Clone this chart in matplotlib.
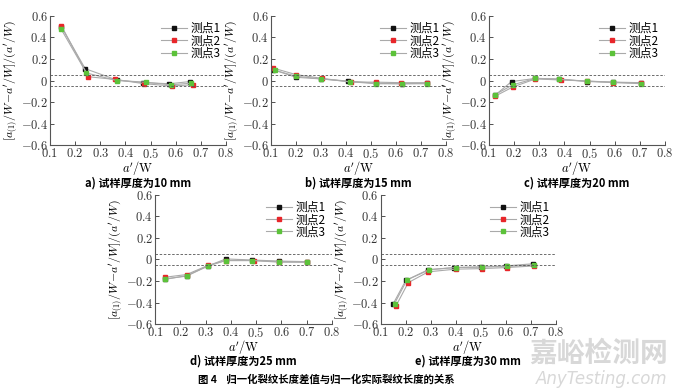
import numpy as np
import matplotlib
matplotlib.use("Agg")
import matplotlib.pyplot as plt

plt.rcParams["mathtext.fontset"] = "cm"
plt.rcParams["font.family"] = ["Noto Sans CJK SC", "DejaVu Sans"]

# a) 10 mm
a_x1 = [0.145, 0.240, 0.365, 0.470, 0.575, 0.655]
a_y1 = [0.500, 0.110, 0.005, -0.020, -0.030, -0.010]
a_x2 = [0.145, 0.253, 0.360, 0.475, 0.585, 0.670]
a_y2 = [0.510, 0.035, 0.010, -0.030, -0.050, -0.040]
a_x3 = [0.145, 0.245, 0.365, 0.480, 0.580, 0.660]
a_y3 = [0.475, 0.070, 0.000, -0.015, -0.040, -0.025]

# b) 15 mm
b_x1 = [0.110, 0.200, 0.300, 0.410, 0.520, 0.625, 0.725]
b_y1 = [0.100, 0.030, 0.015, -0.005, -0.025, -0.030, -0.025]
b_x2 = [0.110, 0.200, 0.305, 0.420, 0.520, 0.620, 0.725]
b_y2 = [0.115, 0.055, 0.020, -0.015, -0.015, -0.020, -0.020]
b_x3 = [0.115, 0.200, 0.300, 0.415, 0.520, 0.625, 0.725]
b_y3 = [0.095, 0.040, 0.015, -0.010, -0.030, -0.030, -0.030]

# c) 20 mm
c_x1 = [0.125, 0.190, 0.285, 0.380, 0.490, 0.595, 0.705]
c_y1 = [-0.135, -0.010, 0.020, 0.015, -0.010, -0.015, -0.020]
c_x2 = [0.125, 0.195, 0.285, 0.385, 0.490, 0.595, 0.705]
c_y2 = [-0.145, -0.060, 0.015, 0.005, -0.005, -0.020, -0.025]
c_x3 = [0.125, 0.195, 0.285, 0.380, 0.490, 0.595, 0.705]
c_y3 = [-0.130, -0.040, 0.020, 0.010, -0.005, -0.015, -0.030]

# d) 25 mm
d_x1 = [0.140, 0.225, 0.310, 0.380, 0.485, 0.590, 0.700]
d_y1 = [-0.180, -0.155, -0.060, 0.005, -0.005, -0.015, -0.020]
d_x2 = [0.140, 0.225, 0.310, 0.380, 0.490, 0.590, 0.700]
d_y2 = [-0.165, -0.140, -0.055, -0.010, -0.010, -0.025, -0.025]
d_x3 = [0.140, 0.225, 0.310, 0.380, 0.485, 0.590, 0.700]
d_y3 = [-0.185, -0.150, -0.060, -0.010, -0.010, -0.020, -0.025]

# e) 30 mm
e_x1 = [0.150, 0.200, 0.290, 0.395, 0.500, 0.600, 0.710]
e_y1 = [-0.410, -0.195, -0.095, -0.075, -0.070, -0.060, -0.040]
e_x2 = [0.160, 0.210, 0.290, 0.400, 0.505, 0.605, 0.715]
e_y2 = [-0.435, -0.215, -0.115, -0.090, -0.085, -0.075, -0.060]
e_x3 = [0.155, 0.205, 0.295, 0.400, 0.505, 0.605, 0.715]
e_y3 = [-0.410, -0.190, -0.095, -0.075, -0.070, -0.065, -0.050]

series_labels = ["测点1", "测点2", "测点3"]
marker_colors = ["#111111", "#e8262a", "#5cc23a"]
panel_titles = ["a) 试样厚度为10 mm", "b) 试样厚度为15 mm", "c) 试样厚度为20 mm",
                "d) 试样厚度为25 mm", "e) 试样厚度为30 mm"]
xticks = [0.1, 0.2, 0.3, 0.4, 0.5, 0.6, 0.7, 0.8]
yticks = [-0.6, -0.4, -0.2, 0, 0.2, 0.4, 0.6]
ytick_labels = [r"$-0.6$", r"$-0.4$", r"$-0.2$", r"$0$", r"$0.2$", r"$0.4$", r"$0.6$"]
caption = "图 4    归一化裂纹长度差值与归一化实际裂纹长度的关系"

panels = [
    [(a_x1, a_y1), (a_x2, a_y2), (a_x3, a_y3)],
    [(b_x1, b_y1), (b_x2, b_y2), (b_x3, b_y3)],
    [(c_x1, c_y1), (c_x2, c_y2), (c_x3, c_y3)],
    [(d_x1, d_y1), (d_x2, d_y2), (d_x3, d_y3)],
    [(e_x1, e_y1), (e_x2, e_y2), (e_x3, e_y3)],
]

# axes rectangles in figure fraction (left, bottom, width, height)
rects = [
    (0.0735, 0.627, 0.259, 0.332),
    (0.3985, 0.627, 0.257, 0.332),
    (0.719, 0.627, 0.259, 0.332),
    (0.228, 0.167, 0.260, 0.332),
    (0.560, 0.167, 0.257, 0.332),
]

fig = plt.figure(figsize=(6.8, 3.89), dpi=100)

for rect, data, title in zip(rects, panels, panel_titles):
    ax = fig.add_axes(rect)
    for (x, y), lab, col in zip(data, series_labels, marker_colors):
        ax.plot(x, y, color="#aaaaaa", lw=0.8, marker="s", ms=3,
                mfc=col, mec=col, label=lab)
    ax.axhline(0.05, color="#555555", lw=0.6, ls=(0, (3, 2)))
    ax.axhline(-0.05, color="#555555", lw=0.6, ls=(0, (3, 2)))
    ax.set_xlim(0.1, 0.8)
    ax.set_ylim(-0.6, 0.6)
    ax.set_xticks(xticks)
    ax.set_xticklabels([r"$%.1f$" % v for v in xticks], fontsize=9)
    ax.set_yticks(yticks)
    ax.set_yticklabels(ytick_labels, fontsize=9)
    ax.spines["top"].set_visible(False)
    ax.spines["right"].set_visible(False)
    ax.spines["left"].set_color("#555555")
    ax.spines["bottom"].set_color("#555555")
    ax.tick_params(direction="in", length=3, width=0.6, pad=1.5, colors="#333333")
    ax.set_xlabel(r"$a'/\mathrm{W}$", fontsize=9, va="center")
    ax.xaxis.set_label_coords(0.5, -0.175)
    ax.set_ylabel(r"$[a_{(1)}/W\!-\!a^{\prime}/W]/(a^{\prime}/W)$", fontsize=8.5, labelpad=1)
    ax.legend(loc="upper right", frameon=False, fontsize=8.5, handlelength=2.2,
              labelspacing=-0.05, borderaxespad=0.1, handletextpad=0.3)
    ax.text(0.5, -0.29, title, transform=ax.transAxes, ha="center", va="center",
            fontsize=8, fontweight="bold")

fig.text(0.48, 0.023, caption, ha="center", va="center", fontsize=7.5, fontweight="bold")
fig.text(0.88, 0.09, "嘉峪检测网", ha="center", va="center", fontsize=20,
         color="#d8d8d8", fontweight="bold")
fig.text(0.885, 0.025, "AnyTesting.com", ha="center", va="center", fontsize=12,
         color="#d8d8d8", style="italic", family=["DejaVu Sans"])

fig.savefig("out.png", dpi=100)
